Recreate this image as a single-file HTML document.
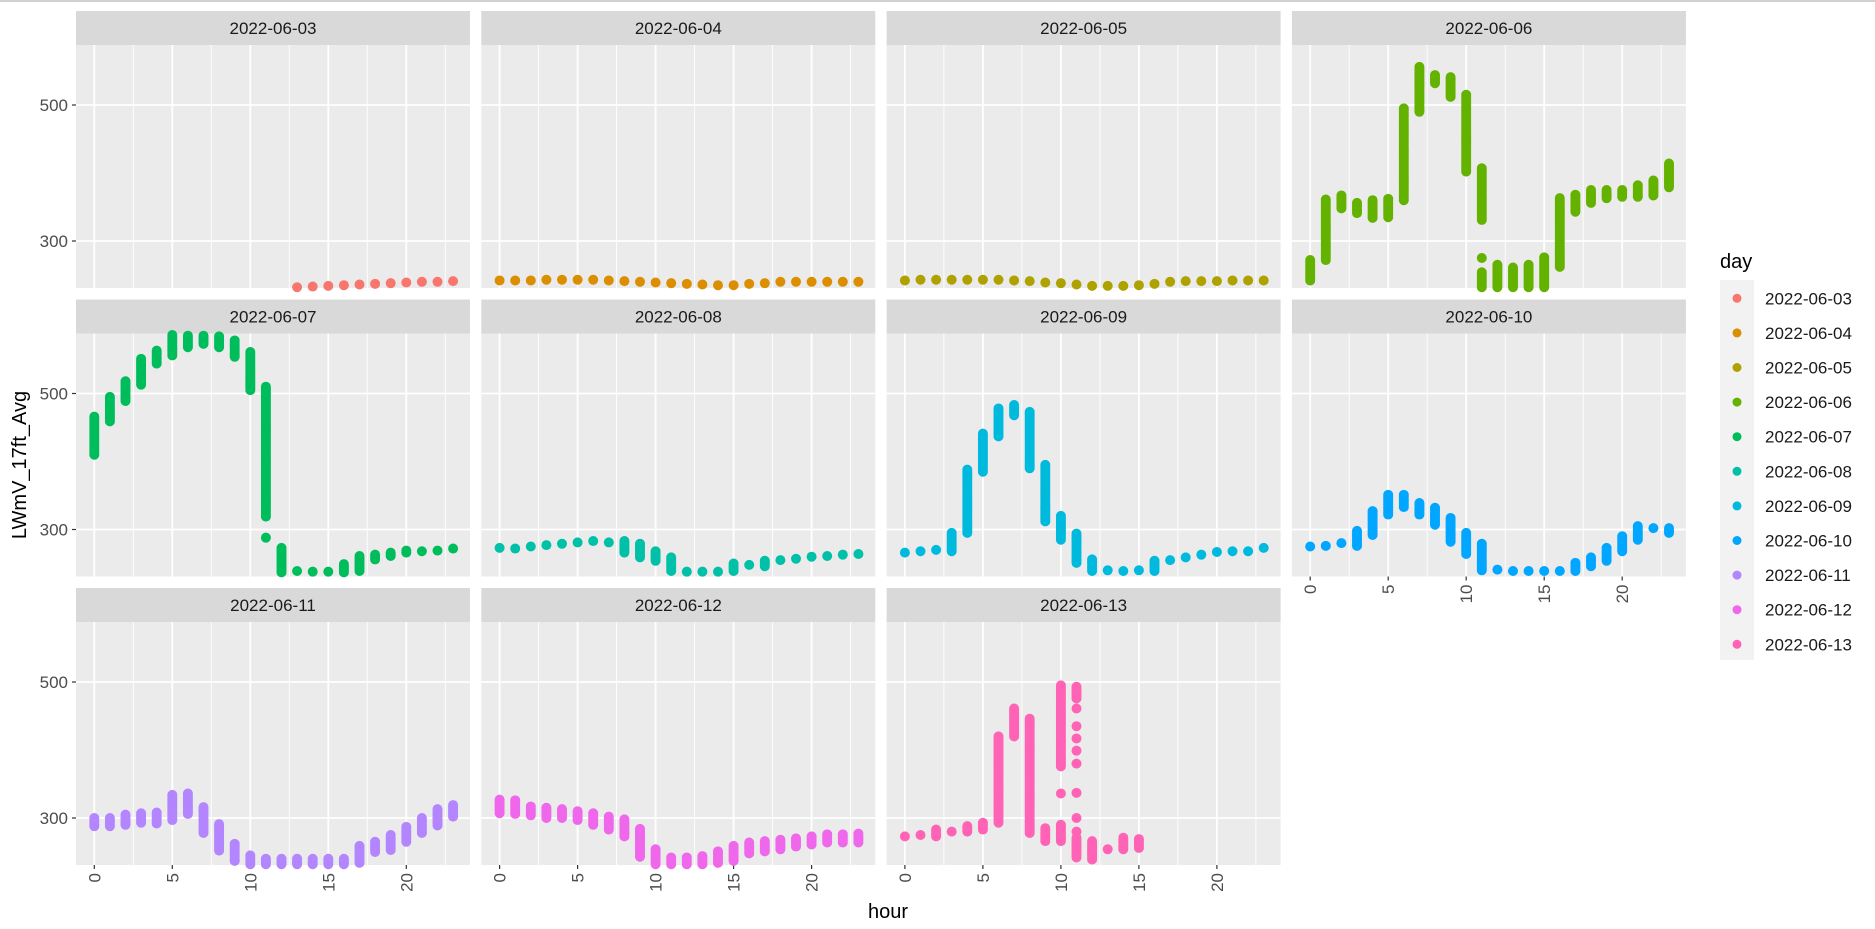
<!DOCTYPE html>
<html><head><meta charset="utf-8">
<style>
html,body{margin:0;padding:0;background:#fff;}
svg{display:block;font-family:"Liberation Sans",sans-serif;}
</style></head>
<body>
<svg id="chart" width="1875" height="929" viewBox="0 0 1875 929" xmlns="http://www.w3.org/2000/svg">
<rect x="0" y="0" width="1875" height="2" fill="#d0d0d0"/>
<g id="panels"></g>
<text x="20" y="465" transform="rotate(-90 20 465)" text-anchor="middle" dominant-baseline="central" font-size="20" fill="#000">LWmV_17ft_Avg</text>
<text x="888" y="918" text-anchor="middle" font-size="20" fill="#000">hour</text>
<g id="legend"></g>
</svg>
<script>
const days = ["2022-06-03","2022-06-04","2022-06-05","2022-06-06","2022-06-07","2022-06-08","2022-06-09","2022-06-10","2022-06-11","2022-06-12","2022-06-13"];
const colors = ["#F8766D","#DB8E00","#AEA200","#64B200","#00BD5C","#00C1A7","#00BADE","#00A6FF","#B385FF","#EF67EB","#FF63B6"];
const xTicks = [0,5,10,15,20];
const yTicks = [300,500];
// each segment: [hour, low, high]
const d0603 = [[13,232,232],[14,233,233],[15,234,234],[16,235,235],[17,236,236],[18,237,237],[19,238,238],[20,239,239],[21,240,240],[22,240,240],[23,241,241]];
const d0604 = [[0,242,242],[1,242,242],[2,242,242],[3,243,243],[4,243,243],[5,243,243],[6,243,243],[7,242,242],[8,241,241],[9,240,240],[10,239,239],[11,238,238],[12,237,237],[13,236,236],[14,235,235],[15,235,235],[16,237,237],[17,238,238],[18,240,240],[19,240,240],[20,240,240],[21,240,240],[22,240,240],[23,240,240]];
const d0605 = [[0,242,242],[1,243,243],[2,243,243],[3,243,243],[4,243,243],[5,243,243],[6,243,243],[7,242,242],[8,241,241],[9,239,239],[10,238,238],[11,236,236],[12,234,234],[13,234,234],[14,234,234],[15,235,235],[16,237,237],[17,240,240],[18,241,241],[19,241,241],[20,241,241],[21,242,242],[22,242,242],[23,242,242]];
const d0606 = [[0,242,272],[1,272,361],[2,348,367],[3,341,356],[4,334,360],[5,335,362],[6,360,495],[7,490,556],[8,532,544],[9,512,541],[10,402,515],[11,331,407],[11,275,275],[11,232,254],[12,232,265],[13,232,261],[14,232,265],[15,232,276],[16,262,363],[17,343,368],[18,356,375],[19,363,375],[20,365,375],[21,365,382],[22,367,389],[23,379,414]];
const d0607 = [[0,410,466],[1,459,495],[2,489,518],[3,513,551],[4,544,563],[5,556,586],[6,568,585],[7,573,585],[8,568,584],[9,554,578],[10,505,561],[11,319,510],[11,288,288],[12,237,273],[13,239,239],[14,238,238],[15,238,238],[16,237,249],[17,239,261],[18,256,263],[19,261,266],[20,266,269],[21,268,268],[22,269,269],[23,272,272]];
const d0608 = [[0,273,273],[1,272,272],[2,275,275],[3,277,277],[4,279,279],[5,281,281],[6,283,283],[7,281,281],[8,266,283],[9,259,279],[10,254,268],[11,239,259],[12,238,238],[13,238,238],[14,238,238],[15,239,250],[16,248,248],[17,246,254],[18,255,255],[19,257,257],[20,260,260],[21,261,261],[22,263,263],[23,264,264]];
const d0609 = [[0,266,266],[1,268,268],[2,270,270],[3,268,295],[4,295,388],[5,385,441],[6,437,478],[7,468,483],[8,390,473],[9,312,395],[10,285,320],[11,251,294],[12,239,256],[13,240,240],[14,239,239],[15,240,240],[16,239,254],[17,255,255],[18,259,259],[19,263,263],[20,267,267],[21,268,268],[22,268,268],[23,273,273]];
const d0610 = [[0,275,275],[1,276,276],[2,280,280],[3,276,298],[4,292,327],[5,322,351],[6,333,351],[7,322,339],[8,307,332],[9,282,317],[10,264,295],[11,240,279],[12,241,241],[13,239,239],[14,239,239],[15,239,239],[16,239,239],[17,239,251],[18,246,259],[19,254,273],[20,268,290],[21,285,305],[22,302,302],[23,295,302]];
const d0611 = [[0,288,300],[1,288,300],[2,290,305],[3,293,307],[4,292,308],[5,297,334],[6,306,336],[7,278,316],[8,252,291],[9,237,262],[10,232,245],[11,232,240],[12,232,240],[13,232,240],[14,232,240],[15,232,240],[16,232,240],[17,234,259],[18,250,265],[19,253,275],[20,265,287],[21,278,300],[22,289,313],[23,302,319]];
const d0612 = [[0,307,327],[1,306,326],[2,304,317],[3,300,315],[4,300,313],[5,297,310],[6,290,307],[7,283,302],[8,273,298],[9,243,284],[10,232,254],[11,232,242],[12,232,242],[13,232,244],[14,234,251],[15,237,259],[16,248,264],[17,251,266],[18,254,268],[19,258,270],[20,261,273],[21,264,276],[22,264,276],[23,264,277]];
const d0613 = [[0,273,273],[1,275,275],[2,273,283],[3,280,280],[4,280,288],[5,283,293],[6,293,420],[7,420,461],[8,278,446],[9,266,285],[10,376,495],[10,336,336],[10,266,290],[11,476,493],[11,461,461],[11,435,435],[11,417,417],[11,399,399],[11,380,380],[11,337,337],[11,300,300],[11,280,280],[11,242,271],[12,239,266],[13,254,254],[14,254,271],[15,256,269]];
const series = [d0603,d0604,d0605,d0606,d0607,d0608,d0609,d0610,d0611,d0612,d0613];

const NS = "http://www.w3.org/2000/svg";
const PW = 394, PH = 243, COLSTEP = 405.3, ROWSTEP = 288.5, LEFT0 = 76, TOP0 = 45;
function mk(tag, attrs, parent){const e=document.createElementNS(NS,tag);for(const k in attrs)e.setAttribute(k,attrs[k]);parent.appendChild(e);return e;}
function xScale(c,h){return LEFT0 + c*COLSTEP + 18.3 + h*15.6;}
function yScale(r,v){return TOP0 + r*ROWSTEP + 60 + (500-v)*0.68;}
const panels = document.getElementById('panels');
days.forEach((day,i)=>{
  const r = Math.floor(i/4), c = i%4;
  const L = LEFT0 + c*COLSTEP, T = TOP0 + r*ROWSTEP;
  const g = mk('g',{},panels);
  
  
  const strip = mk('rect',{x:L,y:T-34,width:PW,height:34,fill:'#d9d9d9'},g);
  
  
  const st = mk('text',{x:L+PW/2,y:T-11,'text-anchor':'middle','font-size':'17',fill:'#1a1a1a'},g);
  st.textContent = day;
  
  
  const bg = mk('rect',{x:L,y:T,width:PW,height:PH,fill:'#ebebeb'},g);
  
  
  for(let h=2.5;h<24;h+=5){const x=xScale(c,h);const ln=mk('line',{x1:x,x2:x,y1:T,y2:T+PH,stroke:'#fff','stroke-width':'0.9'},g);}
  xTicks.forEach(h=>{const x=xScale(c,h);const ln=mk('line',{x1:x,x2:x,y1:T,y2:T+PH,stroke:'#fff','stroke-width':'1.8'},g);});
  yTicks.forEach(v=>{const y=yScale(r,v);const ln=mk('line',{x1:L,x2:L+PW,y1:y,y2:y,stroke:'#fff','stroke-width':'1.8'},g);});
  if(c===0){
    yTicks.forEach(v=>{const y=yScale(r,v);
      const tk=mk('line',{x1:L-4,x2:L,y1:y,y2:y,stroke:'#333','stroke-width':'1.2'},g);
      
      const t=mk('text',{x:L-8,y:y+6,'text-anchor':'end','font-size':'17',fill:'#4d4d4d'},g);
      t.textContent=v;});
  }
  const showX = (r===2) || (r===1 && c===3);
  if(showX){
    xTicks.forEach(h=>{const x=xScale(c,h);
      const tk=mk('line',{x1:x,x2:x,y1:T+PH,y2:T+PH+4,stroke:'#333','stroke-width':'1.2'},g);
      
      const ty=T+PH+8;
      const t=mk('text',{x:x,y:ty,'text-anchor':'end','font-size':'17',fill:'#4d4d4d',transform:'rotate(-90 '+x+' '+ty+') translate(0 6)'},g);
      t.textContent=h;});
  }
  const pts = mk('g',{fill:colors[i]},g);
  
  
  series[i].forEach(seg=>{
    const [h,lo,hi]=seg;
    const n=Math.max(1,Math.round((hi-lo)/3)+1);
    for(let k=0;k<n;k++){
      const v = n===1?lo:lo+(hi-lo)*k/(n-1);
      const p=mk('circle',{cx:xScale(c,h),cy:yScale(r,v),r:5},pts);
      
      
    }
  });
});
const leg = document.getElementById('legend');
const lt = mk('text',{x:1720,y:268,'font-size':'20',fill:'#000'},leg);
lt.textContent='day';


const lbg = mk('rect',{x:1720,y:280,width:34,height:380,fill:'#f2f2f2'},leg);


days.forEach((day,i)=>{
  const y=298.3+i*34.6;
  const eg=mk('g',{},leg);
  
  
  mk('circle',{cx:1737,cy:y,r:4.5,fill:colors[i]},eg);
  const t=mk('text',{x:1765,y:y+6,'font-size':'17',fill:'#1a1a1a'},eg);
  t.textContent=day;
});
</script>
</body></html>
